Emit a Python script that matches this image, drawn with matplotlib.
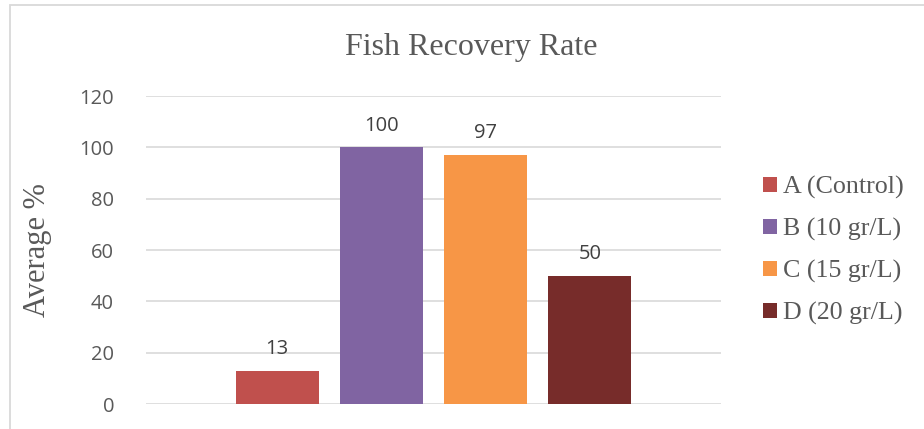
import matplotlib
matplotlib.use('Agg')
import matplotlib.pyplot as plt
from matplotlib.patches import Rectangle, Patch

# ── data ─────────────────────────────────────────────
groups = ['A (Control)', 'B (10 gr/L)', 'C (15 gr/L)', 'D (20 gr/L)']
values = [13, 100, 97, 50]
colors = ['#C0504D', '#8064A2', '#F79646', '#772C2A']
yticks = [0, 20, 40, 60, 80, 100, 120]

SERIF = ['Liberation Serif', 'DejaVu Serif']
SANS = ['Open Sans', 'DejaVu Sans']

W, H = 924, 429
fig = plt.figure(figsize=(W / 100, H / 100), dpi=100)
fig.patch.set_facecolor('white')

# chart-area border (runs off right / bottom edges)
fig.patches.append(Rectangle((9.5 / W, -0.2), 1.2, 1.2 - 5.5 / H + 0.0,
                             transform=fig.transFigure, fill=False,
                             edgecolor='#d9d9d9', linewidth=1.3))

ax = fig.add_axes([146 / W, 1 - 404 / H, (721 - 146) / W, (404 - 96) / H])
x = list(range(len(values)))
ax.bar(x, values, width=0.8, color=colors, zorder=3)
ax.set_xlim(-1.26, 4.26)
ax.set_ylim(0, 120)
ax.set_yticks(yticks)
ax.set_xticks([])
ax.grid(axis='y', color='#d9d9d9', linewidth=1.2, zorder=0)
for s in ax.spines.values():
    s.set_visible(False)
ax.tick_params(axis='y', length=0, pad=23, labelsize=14.5, labelcolor='#595959')
for lab in ax.get_yticklabels():
    lab.set_family(SANS)

for xi, v in zip(x, values):
    ax.annotate(str(v), (xi, v), xytext=(0, 12), textcoords='offset points',
                ha='center', va='baseline', fontsize=14.5, color='#404040',
                family=SANS)

fig.text(471.5 / W, 1 - 55 / H, 'Fish Recovery Rate', ha='center', va='baseline',
         fontsize=23, color='#595959', family=SERIF)
fig.text(37 / W, 1 - 250 / H, 'Average %', ha='center', va='center', rotation=90,
         fontsize=22, color='#595959', family=SERIF)

handles = [Patch(facecolor=c, edgecolor='none', label=g) for c, g in zip(colors, groups)]
fig.legend(handles=handles, loc='center left', bbox_to_anchor=(763 / W, 1 - 250.5 / H),
           frameon=False, borderpad=0, borderaxespad=0, handlelength=0.54,
           handleheight=0.54, handletextpad=0.23, labelspacing=0.73,
           prop={'family': SERIF, 'size': 18.7}, labelcolor='#595959')

fig.savefig('out.png', dpi=100, facecolor='white')
